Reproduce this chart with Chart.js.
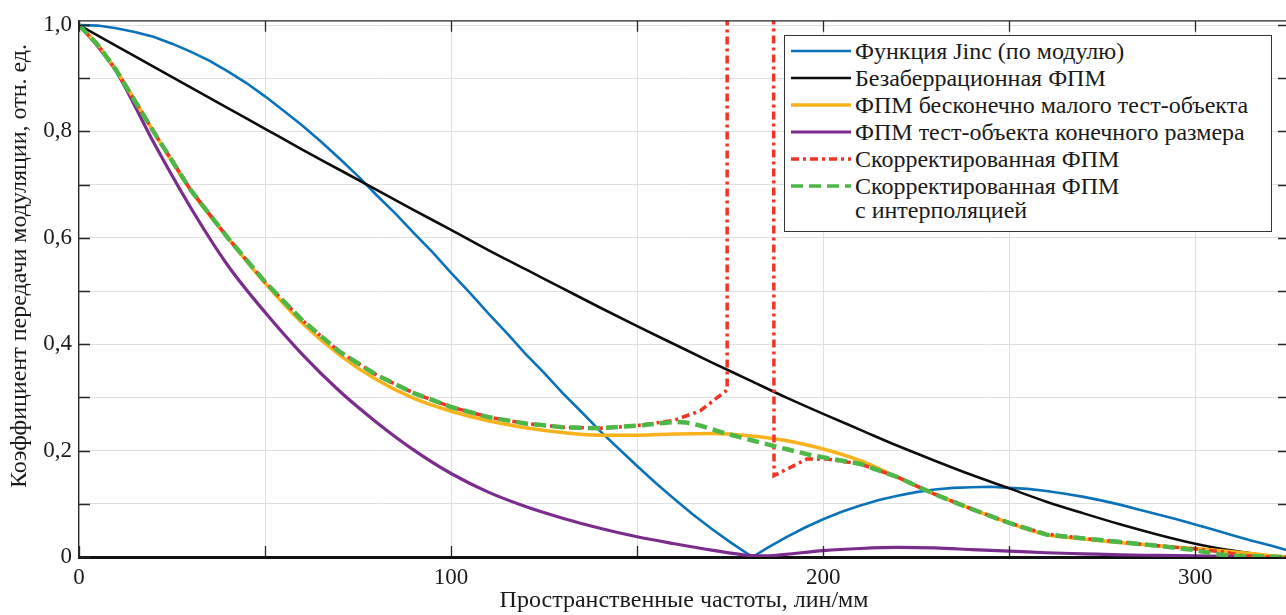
<!DOCTYPE html>
<html lang="ru">
<head>
<meta charset="utf-8">
<title>ФПМ</title>
<script src="https://cdn.jsdelivr.net/npm/chart.js@4.4.1/dist/chart.umd.min.js"></script>
<style>
  html, body { margin: 0; padding: 0; background: #fff; overflow: hidden; }
  #wrap { position: relative; width: 1286px; height: 615px; overflow: hidden; }
  #mtf { position: absolute; left: 0; top: 0; }
  #legend {
    position: absolute; left: 784px; top: 35px; width: 488px; height: 197px;
    box-sizing: border-box; border: 1.5px solid #333; background: #fff;
    font-family: 'Liberation Serif', 'Times New Roman', serif; font-size: 24px; color: #1a1a1a;
  }
  .row { position: absolute; left: 0; height: 24px; line-height: 24px; }
  .row svg { position: absolute; left: 5px; top: 0; }
  .row span { position: absolute; left: 70px; top: 0; white-space: pre; }
</style>
</head>
<body>
<div id="wrap">
  <canvas id="mtf" width="1289" height="615"></canvas>
  <div id="legend"></div>
</div>
<script>
// Функция Jinc (по модулю)
const jincX = [0, 5, 10, 15, 20, 25, 30, 35, 40, 45, 50, 55, 60, 65, 70, 75, 80, 85, 90, 95, 100,
               105, 110, 115, 120, 125, 130, 135, 140, 145, 150, 155, 160, 165, 170, 175, 181,
               185, 190, 195, 200, 205, 210, 215, 220, 225, 230, 235, 240, 245, 250, 255, 260,
               265, 270, 275, 280, 285, 290, 295, 300, 305, 310, 315, 320, 325];
const jincY = [1, 0.999, 0.994, 0.987, 0.978, 0.965, 0.950, 0.933, 0.913, 0.891, 0.866, 0.839,
               0.811, 0.781, 0.749, 0.716, 0.680, 0.646, 0.609, 0.573, 0.534, 0.497, 0.458, 0.421,
               0.382, 0.346, 0.308, 0.273, 0.237, 0.204, 0.171, 0.139, 0.109, 0.080, 0.053, 0.028, 0,
               0.017, 0.037, 0.055, 0.071, 0.085, 0.097, 0.107, 0.115, 0.122, 0.127, 0.130, 0.131,
               0.132, 0.130, 0.128, 0.124, 0.119, 0.113, 0.106, 0.098, 0.089, 0.080, 0.071, 0.061,
               0.051, 0.041, 0.031, 0.022, 0.012];

// Безаберрационная ФПМ
const idealX = [0, 10, 20, 30, 40, 50, 60, 70, 80, 90, 100, 110, 120, 130, 140, 150, 160, 170, 180,
                190, 200, 210, 220, 230, 240, 250, 260, 270, 280, 290, 300, 310, 320, 325];
const idealY = [1, 0.961, 0.922, 0.883, 0.844, 0.805, 0.766, 0.728, 0.690, 0.652, 0.615, 0.577, 0.541,
                0.505, 0.469, 0.434, 0.400, 0.366, 0.333, 0.300, 0.269, 0.239, 0.209, 0.181, 0.154,
                0.129, 0.104, 0.082, 0.061, 0.042, 0.025, 0.012, 0.002, 0];

// ФПМ бесконечно малого тест-объекта
const pointX = [0, 5, 10, 20, 30, 40, 50, 60, 70, 80, 90, 100, 110, 120, 130, 140, 150, 160, 170, 180,
                190, 200, 210, 220, 230, 240, 250, 260, 270, 280, 290, 300, 310, 320, 325];
const pointY = [1, 0.963, 0.915, 0.80, 0.69, 0.60, 0.515, 0.44, 0.38, 0.333, 0.298, 0.274, 0.256, 0.243,
                0.234, 0.229, 0.229, 0.231, 0.232, 0.228, 0.219, 0.203, 0.181, 0.150, 0.118, 0.090,
                0.064, 0.042, 0.034, 0.027, 0.021, 0.016, 0.010, 0.003, 0];

// ФПМ тест-объекта конечного размера
const finiteX = [0, 5, 10, 20, 30, 40, 50, 60, 70, 80, 90, 100, 110, 120, 130, 140, 150, 160, 170, 180,
                 185, 190, 200, 210, 220, 230, 240, 250, 260, 270, 280, 290, 300, 310, 320, 325];
const finiteY = [1, 0.96, 0.913, 0.78, 0.657, 0.548, 0.460, 0.381, 0.312, 0.253, 0.201, 0.157, 0.122,
                 0.095, 0.073, 0.054, 0.038, 0.025, 0.013, 0.003, 0.002, 0.005, 0.012, 0.016, 0.018,
                 0.017, 0.014, 0.011, 0.008, 0.006, 0.004, 0.003, 0.002, 0.001, 0.0005, 0];

// Скорректированная ФПМ (between ~174 and ~187 it leaves the plot)
const corrX = [0, 5, 10, 20, 30, 40, 50, 60, 70, 80, 90, 100, 110, 120, 130, 140, 150, 160, 167, 174.2,
               174.2, 186.6, 186.8, 195.6, 201, 210, 220, 230, 240, 250, 260, 270, 280, 290, 300, 308,
               312, 318, 325];
const corrY = [1, 0.963, 0.915, 0.80, 0.69, 0.60, 0.517, 0.445, 0.386, 0.342, 0.308, 0.282, 0.263, 0.251,
               0.244, 0.242, 0.247, 0.257, 0.275, 0.314, 1.5, 1.5, 0.153, 0.184, 0.184, 0.175, 0.150,
               0.118, 0.090, 0.064, 0.043, 0.035, 0.028, 0.021, 0.015, 0.009, 0.004, 0, 0];

// Скорректированная ФПМ с интерполяцией
const interpX = [0, 5, 10, 20, 30, 40, 50, 60, 70, 80, 90, 100, 110, 120, 130, 140, 150, 160, 163, 167,
                 173, 181, 190, 197, 210, 220, 230, 240, 250, 260, 270, 280, 290, 300, 305, 310, 325];
const interpY = [1, 0.963, 0.915, 0.80, 0.69, 0.60, 0.517, 0.445, 0.386, 0.342, 0.308, 0.282, 0.263, 0.251,
                 0.244, 0.242, 0.247, 0.254, 0.253, 0.247, 0.234, 0.219, 0.203, 0.191, 0.175, 0.150,
                 0.118, 0.090, 0.064, 0.042, 0.035, 0.028, 0.021, 0.013, 0.006, 0.002, 0];

const LABELS = [
    'Функция Jinc (по модулю)',
    'Безаберрационная ФПМ',
    'ФПМ бесконечно малого тест-объекта',
    'ФПМ тест-объекта конечного размера',
    'Скорректированная ФПМ',
    'Скорректированная ФПМ\nс интерполяцией'
];

const X_TITLE = 'Пространственные частоты, лин/мм';
const Y_TITLE = 'Коэффициент передачи модуляции, отн. ед.';
const X_TICKS_EVERY = 50;
const Y_TICKS_EVERY = 0.1;

const SERIF = "'Liberation Serif', 'Times New Roman', serif";
const TICK_LEN = 11;

function pts(xs, ys) {
    return xs.map((x, i) => ({ x: x, y: ys[i] }));
}

// MATLAB-like box: top/right edges, ticks pointing inwards, y title
const frameTicks = {
    id: 'frameTicks',
    afterDatasetsDraw(chart) {
        const { ctx, chartArea: a, scales: { x, y } } = chart;
        ctx.save();
        ctx.strokeStyle = '#262626';
        ctx.lineWidth = 1.3;
        ctx.beginPath();
        ctx.moveTo(a.left, a.top);
        ctx.lineTo(a.right, a.top);
        ctx.lineTo(a.right, a.bottom);
        x.ticks.forEach(t => {
            const px = Math.round(x.getPixelForValue(t.value)) + 0.5;
            ctx.moveTo(px, a.top);
            ctx.lineTo(px, a.top + TICK_LEN);
            ctx.moveTo(px, a.bottom);
            ctx.lineTo(px, a.bottom - TICK_LEN);
        });
        y.ticks.forEach(t => {
            const py = Math.round(y.getPixelForValue(t.value)) + 0.5;
            ctx.moveTo(a.left, py);
            ctx.lineTo(a.left + TICK_LEN, py);
            ctx.moveTo(a.right, py);
            ctx.lineTo(a.right - TICK_LEN, py);
        });
        ctx.stroke();

        // y title sits a bit above the middle of the axis in the original
        ctx.translate(20, 266);
        ctx.rotate(-Math.PI / 2);
        ctx.fillStyle = '#1a1a1a';
        ctx.font = '24px ' + SERIF;
        ctx.textAlign = 'center';
        ctx.textBaseline = 'middle';
        ctx.fillText(Y_TITLE, 0, 0);
        ctx.restore();
    }
};

const series = [
    { data: pts(jincX, jincY), color: '#0B72BA', width: 2.6, dash: [], order: 5 },
    { data: pts(idealX, idealY), color: '#0d0d0d', width: 2.6, dash: [], order: 4, mono: true },
    { data: pts(pointX, pointY), color: '#F8B21C', width: 3.5, dash: [], order: 2, mono: true },
    { data: pts(finiteX, finiteY), color: '#7B2D8E', width: 3.2, dash: [], order: 3, mono: true },
    { data: pts(corrX, corrY), color: '#EE3526', width: 3.5, dash: [8, 4, 3, 4], order: 1 },
    { data: pts(interpX, interpY), color: '#4DB748', width: 4.5, dash: [12, 6], order: 0 }
];

const chart = new Chart(document.getElementById('mtf'), {
    type: 'line',
    data: {
        datasets: series.map((s, i) => ({
            label: LABELS[i],
            data: s.data,
            borderColor: s.color,
            backgroundColor: s.color,
            borderWidth: s.width,
            borderDash: s.dash,
            pointRadius: 0,
            fill: false,
            order: s.order,
            cubicInterpolationMode: s.mono ? 'monotone' : 'default',
            tension: 0
        }))
    },
    options: {
        responsive: false,
        animation: false,
        devicePixelRatio: 1,
        layout: { padding: { top: 19, left: 0, right: 0, bottom: 0 } },
        plugins: {
            legend: { display: false },
            tooltip: { enabled: false }
        },
        scales: {
            x: {
                type: 'linear',
                min: 0,
                max: 325.2,
                afterFit: s => { s.height = 58; },
                border: { color: '#111', width: 3 },
                grid: { color: '#e0e0e0', lineWidth: 1, drawTicks: false },
                ticks: {
                    stepSize: X_TICKS_EVERY,
                    autoSkip: false,
                    maxRotation: 0,
                    includeBounds: false,
                    padding: 7,
                    color: '#1a1a1a',
                    font: { family: SERIF, size: 23 },
                    callback: v => (v % 100 === 0 ? String(v) : '')
                },
                title: {
                    display: true,
                    text: X_TITLE,
                    color: '#1a1a1a',
                    font: { family: SERIF, size: 24 },
                    padding: { top: 0, bottom: 0 }
                }
            },
            y: {
                type: 'linear',
                min: 0,
                max: 1.008,
                afterFit: s => { s.width = 79; },
                border: { color: '#262626', width: 1.3 },
                grid: { color: '#e0e0e0', lineWidth: 1, drawTicks: false },
                ticks: {
                    stepSize: Y_TICKS_EVERY,
                    autoSkip: false,
                    includeBounds: false,
                    padding: 7,
                    color: '#1a1a1a',
                    font: { family: SERIF, size: 23 },
                    callback: v => {
                        const k = Math.round(v * 10);
                        if (k % 2) return '';
                        return k === 0 ? '0' : (k / 10).toFixed(1).replace('.', ',');
                    }
                }
            }
        }
    },
    plugins: [frameTicks]
});

// legend box drawn in HTML, rows built from the chart's datasets
const ROW_CENTER = [15, 42, 69, 96, 123, 150];
const legendEl = document.getElementById('legend');
chart.data.datasets.forEach((ds, i) => {
    const row = document.createElement('div');
    row.className = 'row';
    row.style.top = (ROW_CENTER[i] - 12) + 'px';
    const dash = ds.borderDash.length ? ds.borderDash.join(' ') : 'none';
    row.innerHTML =
        '<svg width="62" height="24"><line x1="1" y1="12" x2="61" y2="12" stroke="' + ds.borderColor +
        '" stroke-width="' + Math.min(ds.borderWidth, 3.5) + '" stroke-dasharray="' + dash + '"/></svg>';
    const txt = document.createElement('span');
    txt.textContent = ds.label;
    row.appendChild(txt);
    legendEl.appendChild(row);
});
</script>
</body>
</html>
